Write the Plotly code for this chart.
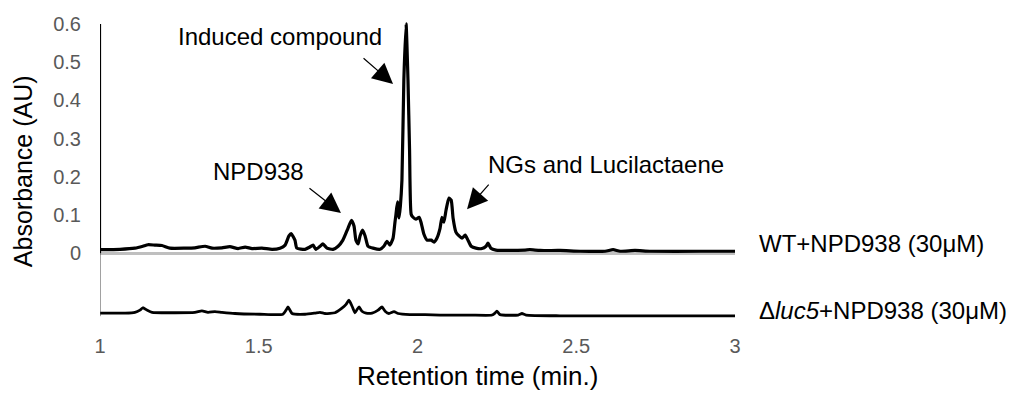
import plotly.graph_objects as go

# WT + NPD938 chromatogram (retention time in min, absorbance in AU)
wt_time = [1.000, 1.063, 1.110, 1.135, 1.151, 1.173, 1.195, 1.220, 1.268, 1.299, 1.331, 1.353,
           1.384, 1.409, 1.435, 1.457, 1.479, 1.510, 1.542, 1.567, 1.583, 1.595, 1.602, 1.614,
           1.620, 1.646, 1.661, 1.671, 1.680, 1.693, 1.702, 1.715, 1.734, 1.750, 1.765, 1.781,
           1.792, 1.800, 1.806, 1.813, 1.819, 1.827, 1.835, 1.844, 1.860, 1.882, 1.894, 1.904,
           1.913, 1.923, 1.929, 1.932, 1.937, 1.942, 1.946, 1.951, 1.957, 1.964, 1.970, 1.975,
           1.980, 1.986, 1.995, 2.005, 2.011, 2.020, 2.030, 2.043, 2.052, 2.061, 2.071, 2.077,
           2.083, 2.090, 2.099, 2.106, 2.112, 2.121, 2.131, 2.140, 2.150, 2.159, 2.169, 2.184,
           2.203, 2.216, 2.222, 2.231, 2.247, 2.291, 2.339, 2.354, 2.386, 2.449, 2.512, 2.591,
           2.616, 2.638, 2.685, 2.732, 2.890, 3.000]
wt_abs = [0.009, 0.010, 0.013, 0.018, 0.022, 0.021, 0.020, 0.013, 0.013, 0.014, 0.018, 0.013,
          0.014, 0.017, 0.012, 0.016, 0.012, 0.013, 0.010, 0.013, 0.021, 0.045, 0.051, 0.034,
          0.013, 0.010, 0.016, 0.021, 0.010, 0.018, 0.024, 0.013, 0.010, 0.018, 0.034, 0.065,
          0.086, 0.071, 0.034, 0.024, 0.045, 0.060, 0.045, 0.018, 0.013, 0.010, 0.018, 0.031,
          0.021, 0.039, 0.081, 0.100, 0.134, 0.092, 0.123, 0.191, 0.453, 0.600, 0.453, 0.270,
          0.102, 0.094, 0.089, 0.094, 0.081, 0.050, 0.034, 0.034, 0.029, 0.039, 0.065, 0.094,
          0.081, 0.113, 0.144, 0.139, 0.092, 0.055, 0.045, 0.039, 0.047, 0.034, 0.018, 0.013,
          0.012, 0.018, 0.026, 0.013, 0.008, 0.007, 0.008, 0.009, 0.007, 0.007, 0.005, 0.005,
          0.009, 0.005, 0.007, 0.005, 0.005, 0.005]

# delta-luc5 + NPD938 chromatogram
mut_time = [1.000, 1.079, 1.110, 1.126, 1.135, 1.148, 1.164, 1.236, 1.299, 1.321, 1.340, 1.362,
            1.384, 1.425, 1.504, 1.576, 1.586, 1.592, 1.598, 1.605, 1.646, 1.677, 1.693, 1.709,
            1.740, 1.762, 1.775, 1.784, 1.794, 1.803, 1.810, 1.816, 1.825, 1.838, 1.857, 1.876,
            1.888, 1.898, 1.910, 1.926, 1.939, 1.976, 2.024, 2.071, 2.165, 2.235, 2.244, 2.250,
            2.260, 2.317, 2.329, 2.342, 2.449, 2.732, 3.000]
mut_abs = [0.008, 0.008, 0.010, 0.016, 0.022, 0.016, 0.010, 0.009, 0.010, 0.014, 0.010, 0.012,
           0.010, 0.007, 0.005, 0.005, 0.016, 0.024, 0.016, 0.007, 0.005, 0.008, 0.010, 0.007,
           0.009, 0.021, 0.031, 0.042, 0.026, 0.009, 0.018, 0.024, 0.013, 0.008, 0.008, 0.016,
           0.024, 0.013, 0.007, 0.012, 0.007, 0.004, 0.004, 0.003, 0.003, 0.003, 0.008, 0.013,
           0.004, 0.003, 0.007, 0.003, 0.001, 0.001, 0.001]

mut_offset = -0.165  # lower panel baseline

x_ticks = [1, 1.5, 2, 2.5, 3]
x_tick_text = ["1", "1.5", "2", "2.5", "3"]
y_ticks = [0, 0.1, 0.2, 0.3, 0.4, 0.5, 0.6]
y_tick_text = ["0", "0.1", "0.2", "0.3", "0.4", "0.5", "0.6"]

FONT = "Arial, Liberation Sans, sans-serif"

fig = go.Figure()
fig.add_trace(go.Scatter(x=wt_time, y=wt_abs, mode="lines",
                         line=dict(color="black", width=3.2, shape="spline", smoothing=0.5),
                         showlegend=False))
fig.add_trace(go.Scatter(x=mut_time, y=[v + mut_offset for v in mut_abs], mode="lines",
                         line=dict(color="black", width=2.8, shape="spline", smoothing=0.5),
                         showlegend=False))

# left axis lines
fig.add_shape(type="line", xref="x", yref="y", x0=1, x1=1, y0=0, y1=0.6,
              line=dict(color="black", width=2.2))
fig.add_shape(type="line", xref="x", yref="y", x0=1, x1=1, y0=mut_offset, y1=0,
              line=dict(color="#444444", width=1))

ann_font = dict(family=FONT, size=24, color="black")
# peak labels
fig.add_annotation(x=1.567, y=0.566, text="Induced compound", showarrow=False, font=ann_font,
                   xanchor="center", yanchor="middle")
fig.add_annotation(x=1.498, y=0.215, text="NPD938", showarrow=False, font=ann_font,
                   xanchor="center", yanchor="middle")
fig.add_annotation(x=2.594, y=0.233, text="NGs and Lucilactaene", showarrow=False, font=ann_font,
                   xanchor="center", yanchor="middle")
# arrows
for tipx, tipy, ax, ay in [(1.923, 0.443, -31, -27), (1.759, 0.105, -33, -26), (2.156, 0.115, 23, -26)]:
    fig.add_annotation(x=tipx, y=tipy, ax=ax, ay=ay, text="", showarrow=True,
                       arrowhead=2, arrowsize=3.4, arrowwidth=1.2, arrowcolor="black")
# series labels
fig.add_annotation(xref="paper", x=1.0346, y=0.024, text="WT+NPD938 (30μM)", showarrow=False,
                   xanchor="left", yanchor="middle", font=ann_font)
fig.add_annotation(xref="paper", x=1.0346, y=-0.149, text="Δ<i>luc5</i>+NPD938 (30μM)",
                   showarrow=False, xanchor="left", yanchor="middle", font=ann_font)
# axis titles
fig.add_annotation(xref="paper", x=-0.121, y=0.215, text="Absorbance (AU)", showarrow=False,
                   textangle=-90, xanchor="center", yanchor="middle",
                   font=dict(family=FONT, size=25, color="black"))
fig.add_annotation(xref="paper", x=0.594, yref="paper", y=-0.188, text="Retention time (min.)",
                   showarrow=False, xanchor="center", yanchor="middle",
                   font=dict(family=FONT, size=26, color="black"))

fig.update_layout(
    width=1015, height=394,
    margin=dict(l=100, r=280, t=22, b=74),
    paper_bgcolor="white", plot_bgcolor="white",
    xaxis=dict(range=[1, 3], tickvals=x_ticks, ticktext=x_tick_text, showgrid=False,
               zeroline=False, showline=False, ticks="", ticklabelstandoff=12,
               tickfont=dict(family=FONT, size=20, color="#595959")),
    yaxis=dict(range=[-0.175, 0.605], tickvals=y_ticks, ticktext=y_tick_text, showgrid=False,
               zeroline=True, zerolinecolor="#bfbfbf", zerolinewidth=2.5, showline=False,
               ticks="", ticklabelstandoff=18,
               tickfont=dict(family=FONT, size=20, color="#595959")),
)

fig.write_html("out.html")
